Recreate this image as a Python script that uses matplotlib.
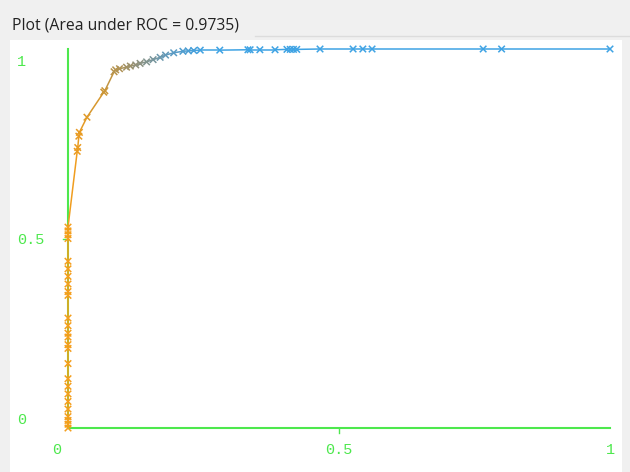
import numpy as np
import matplotlib
matplotlib.use("Agg")
import matplotlib.pyplot as plt
from matplotlib.collections import LineCollection
from matplotlib.colors import LinearSegmentedColormap

title = "Plot (Area under ROC = 0.9735)"

# ROC points (false positive rate, true positive rate)
fpr = [0, 0, 0, 0, 0, 0, 0, 0, 0, 0, 0, 0, 0, 0, 0, 0, 0, 0, 0, 0, 0, 0, 0, 0, 0, 0,
       0.017, 0.018, 0.02, 0.021, 0.035, 0.066, 0.068, 0.085, 0.088, 0.095,
       0.108, 0.115, 0.125, 0.133, 0.145, 0.157, 0.17, 0.18, 0.195, 0.212,
       0.222, 0.232, 0.244, 0.28, 0.332, 0.336, 0.354, 0.382, 0.404, 0.41,
       0.416, 0.422, 0.465, 0.526, 0.544, 0.561, 0.766, 0.80, 1.0]
tpr = [0.0, 0.01, 0.02, 0.03, 0.05, 0.07, 0.09, 0.11, 0.13, 0.17, 0.21, 0.22, 0.24,
       0.25, 0.27, 0.29, 0.35, 0.36, 0.38, 0.40, 0.42, 0.44, 0.50, 0.51, 0.52, 0.53,
       0.73, 0.74, 0.77, 0.78, 0.82, 0.886, 0.89, 0.94, 0.945, 0.948,
       0.952, 0.955, 0.958, 0.962, 0.966, 0.972, 0.978, 0.984, 0.99, 0.994,
       0.995, 0.996, 0.997, 0.997, 0.998, 0.998, 0.998, 0.998, 0.999, 0.999,
       0.999, 0.999, 1.0, 1.0, 1.0, 1.0, 1.0, 1.0, 1.0]

x_ticks = [0, 0.5, 1]
x_tick_labels = ["0", "0.5", "1"]
y_ticks = [0, 0.5, 1]
y_tick_labels = ["0", "0.5", "1"]

W, H = 630, 472
fig = plt.figure(figsize=(W / 100, H / 100), dpi=100)
fig.patch.set_facecolor("#f0f0f0")

fig.text(12 / W, 1 - 25 / H, title, fontsize=11.3, color="#222222",
         family="Open Sans", va="center", ha="left")
fig.add_artist(plt.Line2D([255 / W, 1], [1 - 36 / H, 1 - 36 / H],
                          color="#dcdcdc", lw=1))

# white plotting panel, pixel box 10..622 x 40..472
ax = fig.add_axes([10 / W, 0, 612 / W, (H - 40) / H])
ax.set_facecolor("white")
for s in ax.spines.values():
    s.set_visible(False)
ax.set_xticks([])
ax.set_yticks([])
# data (0,0) at pixel (68,428), (1,1) at pixel (610,49)
sx, sy = 542, 379
ax.set_xlim((10 - 68) / sx, (622 - 68) / sx)
ax.set_ylim((428 - 472) / sy, (428 - 40) / sy)

green = "#4de84d"
ax.plot([0, 0], [0, 1], color=green, lw=1.5, zorder=1)
ax.plot([0, 1], [0, 0], color=green, lw=1.5, zorder=1)
ax.plot([0.5, 0.5], [0, -0.012], color=green, lw=1)
ax.plot([0, -0.01], [0.5, 0.5], color=green, lw=1)

mono = "Liberation Mono"
for t, lab in zip(x_ticks, x_tick_labels):
    xx = t - 0.02 if t == 0 else t
    ax.text(xx, -0.058, lab, color=green, fontsize=11, family=mono,
            ha="center", va="center")
for t, lab in zip(y_ticks, y_tick_labels):
    yy = t + 0.02 if t == 0 else t - (0.034 if t == 1 else 0.004)
    ax.text(-0.094, yy, lab, color=green, fontsize=11, family=mono,
            ha="left", va="center")

# colour along the curve: orange -> grey -> blue
cmap = LinearSegmentedColormap.from_list(
    "roc", ["#f59e1c", "#cf9632", "#939178", "#5e9ac0", "#3fa3e4"])
x = np.array(fpr)
y = np.array(tpr)
c = np.clip(x / 0.25, 0, 1)
pts = np.column_stack([x, y])
segs = np.stack([pts[:-1], pts[1:]], axis=1)
lc = LineCollection(segs, colors=cmap((c[:-1] + c[1:]) / 2), linewidths=1.1,
                    zorder=2)
ax.add_collection(lc)
ax.scatter(x, y, marker="x", s=22, c=cmap(c), linewidths=1.1, zorder=3)

plt.savefig("out.png", dpi=100, facecolor=fig.get_facecolor())
